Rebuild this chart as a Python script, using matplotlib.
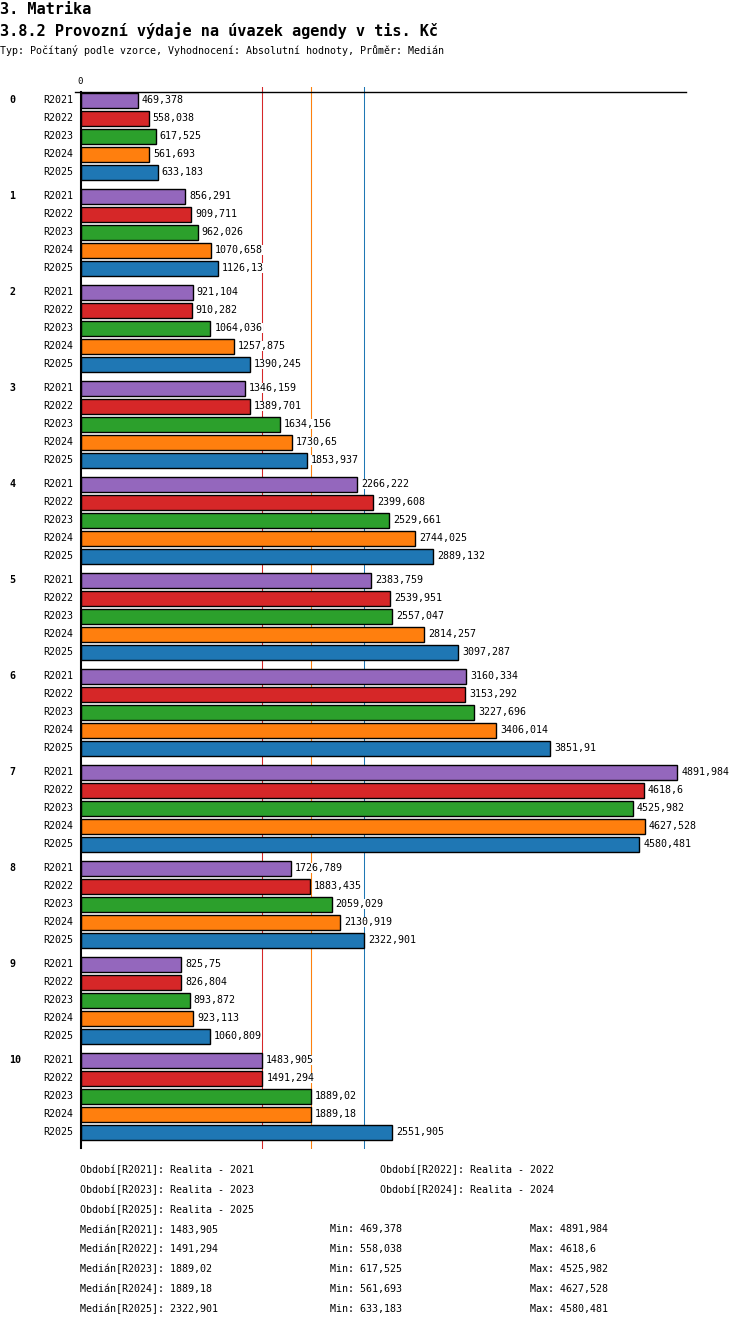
import numpy as np
import matplotlib
matplotlib.use('Agg')
import matplotlib.pyplot as plt

# data
groups = ['0', '1', '2', '3', '4', '5', '6', '7', '8', '9', '10']
series = ['R2021', 'R2022', 'R2023', 'R2024', 'R2025']
colors = ['#9467bd', '#d62728', '#2ca02c', '#ff7f0e', '#1f77b4']
r2021 = [469.378, 856.291, 921.104, 1346.159, 2266.222, 2383.759, 3160.334, 4891.984, 1726.789, 825.75, 1483.905]
r2022 = [558.038, 909.711, 910.282, 1389.701, 2399.608, 2539.951, 3153.292, 4618.6, 1883.435, 826.804, 1491.294]
r2023 = [617.525, 962.026, 1064.036, 1634.156, 2529.661, 2557.047, 3227.696, 4525.982, 2059.029, 893.872, 1889.02]
r2024 = [561.693, 1070.658, 1257.875, 1730.65, 2744.025, 2814.257, 3406.014, 4627.528, 2130.919, 923.113, 1889.18]
r2025 = [633.183, 1126.13, 1390.245, 1853.937, 2889.132, 3097.287, 3851.91, 4580.481, 2322.901, 1060.809, 2551.905]
values = [r2021, r2022, r2023, r2024, r2025]
period_names = ['Realita - 2021', 'Realita - 2022', 'Realita - 2023', 'Realita - 2024', 'Realita - 2025']

W, H = 750, 1328
fig = plt.figure(figsize=(W / 100, H / 100), dpi=100)
mono = 'DejaVu Sans Mono'
small = 7.2


def fx(px):
    return px / W


def fy(py):
    return 1 - py / H


def fmt(v):
    return repr(v).replace('.', ',')


# axes in pixel layout: left 80.5, right 686, top 87, bottom 1149
left, right = 80.5, 686
scale = 0.1220  # px per unit
ax = fig.add_axes([fx(left), fy(1149), fx(right - left), (1149 - 87) / H])
ax.set_xlim(0, (right - left) / scale)
ax.set_ylim(1149 - 100, 87 - 100)
ax.axis('off')

row_h, grp_gap = 18, 6
medians = [np.median(v) for v in values]

# median lines (drawn in series order so later ones cover earlier)
for m, c in zip(medians, colors):
    ax.axvline(m, color=c, lw=0.75, zorder=1, snap=True)

for g, name in enumerate(groups):
    base = g * (5 * row_h + grp_gap)
    ax.text(-71 / scale, base, name, fontsize=small, fontweight='bold', family=mono,
            ha='left', va='center', clip_on=False)
    for s in range(5):
        y = base + s * row_h
        v = values[s][g]
        ax.barh(y, v, height=15, color=colors[s], edgecolor='black', linewidth=1, zorder=3)
        ax.text(-7 / scale, y, series[s], fontsize=small, family=mono, ha='right', va='center',
                clip_on=False)
        ax.text(v + 4 / scale, y, fmt(v), fontsize=small, family=mono, ha='left', va='center',
                zorder=4, bbox=dict(facecolor='white', edgecolor='none', pad=0.3), clip_on=False)

# axis lines
ax.plot([-6 / scale, (right - left) / scale], [-8, -8], color='black', lw=1, clip_on=False, zorder=5)
ax.plot([0, 0], [-8, 1048], color='black', lw=1.5, clip_on=False, zorder=5)
ax.text(0, -19, '0', fontsize=6.5, family=mono, ha='center', va='center', clip_on=False)

# titles
fig.text(fx(0), fy(9), '3. Matrika', fontsize=11, fontweight='bold', family=mono, va='center')
fig.text(fx(0), fy(31), '3.8.2 Provozní výdaje na úvazek agendy v tis. Kč', fontsize=11,
         fontweight='bold', family=mono, va='center')
fig.text(fx(0), fy(51), 'Typ: Počítaný podle vzorce, Vyhodnocení: Absolutní hodnoty, Průměr: Medián',
         fontsize=small, family=mono, va='center')

# legend / stats text
for i, (sname, pname) in enumerate(zip(series, period_names)):
    col, row = i % 2, i // 2
    fig.text(fx(80 + col * 300), fy(1170 + row * 19.8), 'Období[%s]: %s' % (sname, pname),
             fontsize=small, family=mono, va='center')
for i, sname in enumerate(series):
    y = fy(1229.4 + i * 19.8)
    fig.text(fx(80), y, 'Medián[%s]: %s' % (sname, fmt(float(medians[i]))), fontsize=small, family=mono, va='center')
    fig.text(fx(330), y, 'Min: %s' % fmt(min(values[i])), fontsize=small, family=mono, va='center')
    fig.text(fx(530), y, 'Max: %s' % fmt(max(values[i])), fontsize=small, family=mono, va='center')

fig.savefig('out.png', dpi=100)
